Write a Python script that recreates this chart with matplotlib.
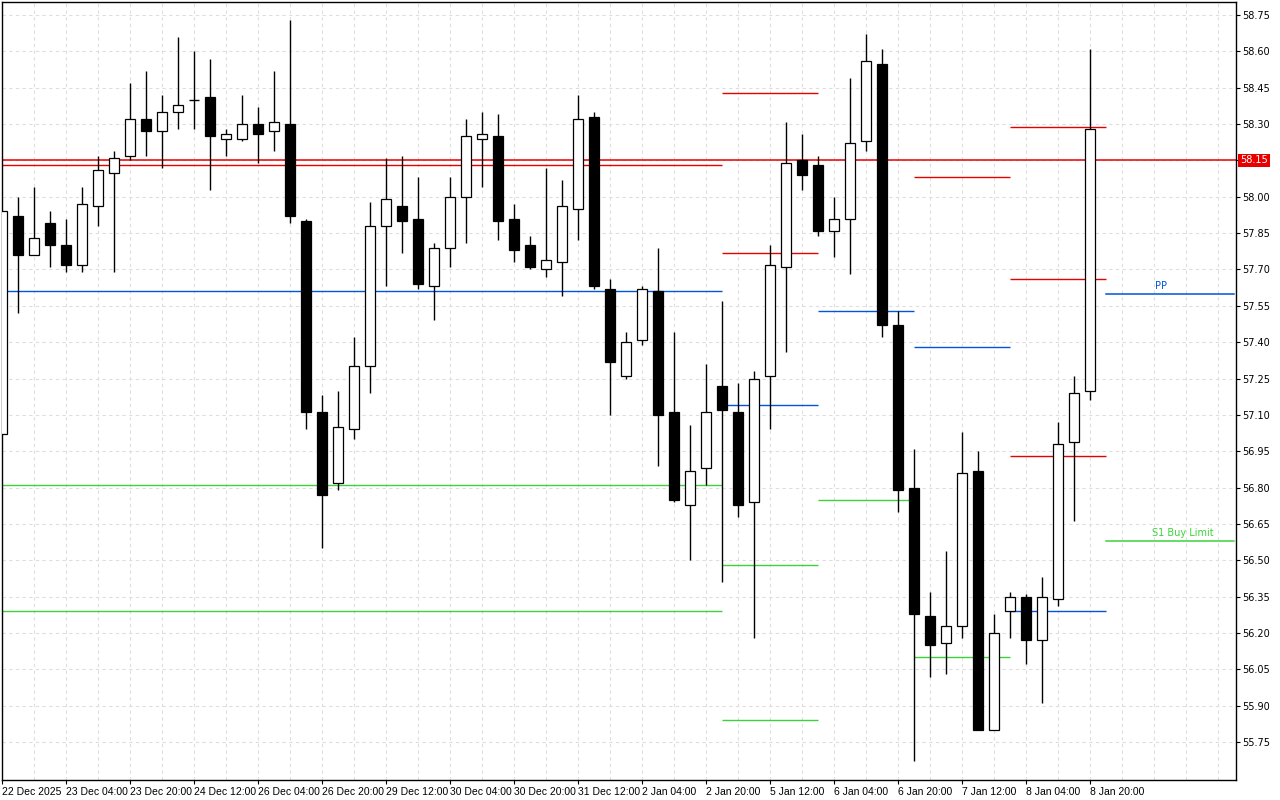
import matplotlib
matplotlib.use('Agg')
import matplotlib.pyplot as plt
import matplotlib.transforms as mtransforms
from matplotlib.patches import Rectangle

# H4 candles, one row per bar (open, high, low, close)
opens = [57.02, 57.92, 57.76, 57.89, 57.80, 57.72, 57.96, 58.10, 58.17, 58.32,
         58.27, 58.35, 58.40, 58.41, 58.24, 58.24, 58.30, 58.27, 58.30, 57.90,
         57.11, 56.82, 57.04, 57.30, 57.88, 57.96, 57.91, 57.63, 57.79, 58.00,
         58.24, 58.25, 57.91, 57.80, 57.70, 57.73, 57.95, 58.33, 57.62, 57.26,
         57.41, 57.61, 57.11, 56.73, 56.88, 57.22, 57.11, 56.74, 57.26, 57.71,
         58.15, 58.13, 57.86, 57.91, 58.23, 58.55, 57.47, 56.80, 56.27, 56.16,
         56.23, 56.87, 55.80, 56.29, 56.35, 56.17, 56.34, 56.99, 57.20]
highs = [57.94, 58.00, 58.04, 57.94, 57.91, 58.04, 58.17, 58.19, 58.47, 58.52,
         58.42, 58.66, 58.60, 58.57, 58.28, 58.42, 58.37, 58.52, 58.73, 57.91,
         57.18, 57.20, 57.42, 57.98, 58.16, 58.17, 58.08, 57.81, 58.08, 58.32,
         58.35, 58.34, 57.97, 57.84, 58.12, 58.07, 58.42, 58.35, 57.66, 57.44,
         57.63, 57.79, 57.44, 57.06, 57.31, 57.57, 57.23, 57.28, 57.80, 58.31,
         58.26, 58.17, 58.00, 58.49, 58.67, 58.61, 57.53, 56.96, 56.37, 56.54,
         57.03, 56.95, 56.28, 56.37, 56.36, 56.43, 57.07, 57.26, 58.61]
lows = [57.02, 57.52, 57.76, 57.71, 57.69, 57.69, 57.88, 57.69, 58.15, 58.17,
        58.12, 58.28, 58.28, 58.03, 58.17, 58.23, 58.14, 58.19, 57.89, 57.04,
        56.55, 56.79, 57.00, 57.19, 57.63, 57.77, 57.62, 57.49, 57.71, 57.81,
        58.04, 57.82, 57.73, 57.70, 57.67, 57.59, 57.82, 57.62, 57.10, 57.25,
        57.39, 56.89, 56.74, 56.50, 56.81, 56.41, 56.68, 56.18, 57.04, 57.36,
        58.03, 57.84, 57.75, 57.68, 58.19, 57.42, 56.70, 55.67, 56.02, 56.03,
        56.18, 55.80, 55.80, 56.18, 56.07, 55.91, 56.31, 56.66, 57.16]
closes = [57.94, 57.76, 57.83, 57.80, 57.72, 57.97, 58.11, 58.16, 58.32, 58.27,
          58.35, 58.38, 58.40, 58.25, 58.26, 58.30, 58.26, 58.31, 57.92, 57.11,
          56.77, 57.05, 57.30, 57.88, 57.99, 57.90, 57.64, 57.79, 58.00, 58.25,
          58.26, 57.90, 57.78, 57.71, 57.74, 57.96, 58.32, 57.63, 57.32, 57.40,
          57.62, 57.10, 56.75, 56.87, 57.11, 57.12, 56.73, 57.25, 57.72, 58.14,
          58.09, 57.86, 57.91, 58.22, 58.56, 57.47, 56.79, 56.28, 56.15, 56.23,
          56.86, 55.80, 56.20, 56.35, 56.17, 56.35, 56.98, 57.19, 58.28]

time_labels = ['22 Dec 2025', '23 Dec 04:00', '23 Dec 20:00', '24 Dec 12:00',
               '26 Dec 04:00', '26 Dec 20:00', '29 Dec 12:00', '30 Dec 04:00',
               '30 Dec 20:00', '31 Dec 12:00', '2 Jan 04:00', '2 Jan 20:00',
               '5 Jan 12:00', '6 Jan 04:00', '6 Jan 20:00', '7 Jan 12:00',
               '8 Jan 04:00', '8 Jan 20:00']
price_ticks = [58.75, 58.60, 58.45, 58.30, 58.15, 58.00, 57.85, 57.70, 57.55,
               57.40, 57.25, 57.10, 56.95, 56.80, 56.65, 56.50, 56.35, 56.20,
               56.05, 55.90, 55.75]

# pivot levels: (start bar, end bar, price, kind)
level_start = [0, 0, 0, 0, 45, 45, 45, 45, 45, 51, 51, 57, 57, 57, 63, 63, 63, 63]
level_end = [45, 45, 45, 45, 51, 51, 51, 51, 51, 57, 57, 63, 63, 63, 69, 69, 69, 69]
level_price = [58.13, 57.61, 56.81, 56.29, 58.43, 57.77, 57.14, 56.48, 55.84,
               57.53, 56.75, 58.08, 57.38, 56.10, 58.29, 57.66, 56.93, 56.29]
level_kind = ['R', 'P', 'S', 'S', 'R', 'R', 'P', 'S', 'S',
              'P', 'S', 'R', 'P', 'S', 'R', 'R', 'R', 'P']

current_line = 58.15
pp_next = 57.60
s1_next = 56.58

RED = '#e60000'
BLUE = '#0055dd'
GREEN = '#3dd23d'
kind_color = {'R': RED, 'P': BLUE, 'S': GREEN}

fig = plt.figure(figsize=(12.8, 8), dpi=100)
ax = fig.add_axes([2 / 1280, 20 / 800, 1234 / 1280, 778 / 800])
x_max = 77.1
ax.set_xlim(0, x_max)
ax.set_ylim(55.593, 58.804)

# dashed grid
for gx in range(0, 78, 2):
    ax.axvline(gx, color='#dedede', lw=0.8, dashes=(3, 3), zorder=0)
for gy in price_ticks:
    ax.axhline(gy, color='#dedede', lw=0.8, dashes=(3, 3), zorder=0)

# levels
for x0, x1, p, k in zip(level_start, level_end, level_price, level_kind):
    ax.plot([x0, x1], [p, p], color=kind_color[k], lw=1.0, zorder=2,
            solid_capstyle='butt', snap=True)
ax.axhline(current_line, color=RED, lw=1.1, zorder=2, snap=True)
ax.plot([69, x_max - 0.1], [pp_next, pp_next], color=BLUE, lw=1.1, zorder=2, snap=True)
ax.plot([69, x_max - 0.1], [s1_next, s1_next], color=GREEN, lw=1.1, zorder=2, snap=True)
ax.text(72.4, pp_next + 0.01, 'PP', color=BLUE, fontsize=7, ha='center', va='bottom')
ax.text(73.8, s1_next + 0.01, 'S1 Buy Limit', color=GREEN, fontsize=7,
        ha='center', va='bottom')

# candles
w = 0.64
for i, (o, h, l, c) in enumerate(zip(opens, highs, lows, closes)):
    ax.vlines(i, l, h, color='black', lw=1.0, zorder=3)
    if o == c:
        ax.hlines(o, i - w / 2, i + w / 2, color='black', lw=1.0, zorder=4)
        continue
    fc = 'white' if c > o else 'black'
    ax.add_patch(Rectangle((i - w / 2, min(o, c)), w, abs(c - o), facecolor=fc,
                           edgecolor='black', lw=0.9, zorder=4))

for s in ax.spines.values():
    s.set_color('black')
    s.set_linewidth(1.0)

ax.yaxis.tick_right()
ax.set_yticks(price_ticks)
ax.set_yticklabels(['' if abs(t - current_line) < 1e-9 else f'{t:.2f}' for t in price_ticks])
ax.tick_params(axis='y', direction='out', length=3, pad=1.5, labelsize=7, colors='black')
ax.set_xticks(range(0, 69, 4))
ax.set_xticklabels(time_labels, ha='left', fontfamily='Liberation Sans', fontsize=7.5)
ax.tick_params(axis='x', direction='out', length=3, pad=2, colors='black')

trans = mtransforms.blended_transform_factory(ax.transAxes, ax.transData)
ax.text(1.0035, current_line, f'{current_line:.2f}', transform=trans, color='white',
        fontsize=7, ha='left', va='center', zorder=10, clip_on=False,
        bbox=dict(boxstyle='square,pad=0.2', fc=RED, ec='none'))

fig.savefig('out.png', dpi=100)
